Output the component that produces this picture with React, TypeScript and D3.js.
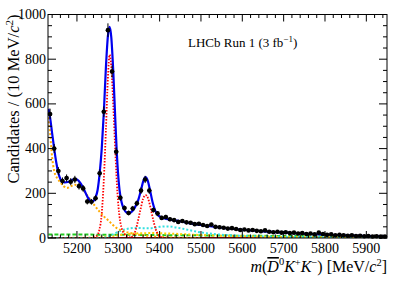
import React from "react";
import * as d3 from "d3";

// histogram: 10 MeV bins starting at 5130
const binLow = 5130;
const binWidth = 10;
const counts = [
  555, 400, 300, 255, 268, 252, 262, 232, 222, 163, 162, 178, 290, 565, 930,
  745, 386, 180, 134, 112, 132, 155, 212, 262, 212, 125, 110, 90, 94, 84, 80,
  72, 76, 70, 68, 62, 64, 58, 54, 60, 50, 48, 46, 42, 44, 40, 36, 38, 34, 36,
  32, 30, 34, 28, 26, 28, 24, 26, 22, 24, 20, 22, 18, 20, 16, 24, 18, 14, 16,
  12, 14, 12, 10, 12, 9, 10, 8, 9, 7, 8, 6, 7,
];

// fit components as [mass, value]
const totalFit: [number, number][] = [
  [5131, 578], [5135, 540], [5140, 468], [5145, 400], [5150, 338], [5155, 292],
  [5160, 264], [5165, 252], [5170, 249], [5180, 252], [5190, 262], [5197, 265],
  [5205, 254], [5215, 226], [5225, 186], [5232, 167], [5238, 164], [5245, 182],
  [5250, 215], [5255, 290], [5260, 400], [5265, 560], [5270, 760], [5275, 905],
  [5279, 945], [5283, 900], [5288, 740], [5293, 520], [5298, 330], [5303, 215],
  [5308, 160], [5314, 128], [5320, 114], [5326, 111], [5332, 117], [5340, 136],
  [5348, 168], [5355, 215], [5361, 258], [5366, 272], [5371, 258], [5377, 212],
  [5383, 160], [5389, 124], [5395, 104], [5405, 92], [5420, 84], [5440, 78],
  [5460, 71], [5500, 58], [5550, 46], [5600, 37], [5650, 30], [5700, 24],
  [5750, 19], [5800, 15], [5850, 12], [5900, 9], [5950, 7],
];

const bdSignal: [number, number][] = [
  [5240, 2], [5248, 10], [5254, 35], [5260, 110], [5265, 260], [5270, 480],
  [5275, 720], [5279, 820], [5283, 770], [5288, 590], [5293, 380], [5298, 200],
  [5303, 95], [5308, 45], [5315, 18], [5325, 5], [5340, 0],
];

const bsSignal: [number, number][] = [
  [5325, 0], [5335, 8], [5342, 35], [5348, 80], [5354, 130], [5360, 175],
  [5366, 192], [5372, 178], [5378, 135], [5384, 85], [5390, 42], [5396, 16],
  [5404, 4], [5415, 0],
];

const partReco: [number, number][] = [
  [5131, 540], [5135, 470], [5140, 360], [5145, 300], [5152, 268],
  [5160, 250], [5168, 232], [5176, 224], [5186, 232], [5195, 238], [5205, 232],
  [5215, 215], [5225, 190], [5235, 165], [5245, 140], [5255, 117], [5265, 97],
  [5275, 80], [5285, 62], [5295, 46], [5310, 32], [5330, 22], [5350, 15],
  [5380, 8], [5420, 3], [5460, 1], [5500, 0],
];

const lowBkg: [number, number][] = [
  [5131, 0], [5240, 2], [5280, 8], [5310, 15], [5340, 20], [5380, 22],
  [5420, 20], [5480, 15], [5550, 10], [5650, 6], [5800, 3], [5950, 2],
];

const combBkg: [number, number][] = [
  [5131, 16], [5250, 15], [5400, 13], [5550, 11], [5700, 9], [5850, 7],
  [5950, 6],
];

const reflBkg: [number, number][] = [
  [5131, 0], [5260, 0], [5280, 10], [5300, 28], [5320, 40], [5340, 45],
  [5360, 44], [5380, 44], [5400, 50], [5420, 52], [5440, 47], [5460, 40],
  [5480, 32], [5500, 25], [5530, 18], [5570, 12], [5620, 8], [5700, 5],
  [5800, 3], [5950, 1],
];

const flatBkg: [number, number][] = [
  [5131, 1], [5950, 1],
];

const xMajor = [5200, 5300, 5400, 5500, 5600, 5700, 5800, 5900];
const yMajor = [0, 200, 400, 600, 800, 1000];

const W = 407;
const H = 292;
const left = 48;
const right = 387;
const top = 14.5;
const bottom = 238;

const App: React.FC = () => {
  const x = d3.scaleLinear().domain([5130, 5950]).range([left, right]);
  const y = d3.scaleLinear().domain([0, 1000]).range([bottom, top]);

  const line = d3
    .line<[number, number]>()
    .x((d) => x(d[0]))
    .y((d) => y(d[1]))
    .curve(d3.curveMonotoneX);

  const xMinor = d3.range(5140, 5950, 20).filter((v) => v % 100 !== 0);
  const yMinor = d3.range(50, 1000, 50).filter((v) => v % 200 !== 0);

  const pts = counts.map((c, i) => ({
    m: binLow + binWidth * i + binWidth / 2,
    n: c,
    e: Math.sqrt(c),
  }));

  const font = "'Liberation Serif', 'Times New Roman', serif";

  return (
    <svg
      width={W}
      height={H}
      style={{ position: "absolute", left: 0, top: 0, background: "#fff" }}
      fontFamily={font}
    >
      <defs>
        <clipPath id="plot">
          <rect x={left} y={top} width={right - left} height={bottom - top} />
        </clipPath>
      </defs>

      <g clipPath="url(#plot)" fill="none">
        <path d={line(flatBkg) || ""} stroke="#d40000" strokeWidth={1.5} />
        <path d={line(combBkg) || ""} stroke="#22cc22" strokeWidth={2} strokeDasharray="4,2" />
        <path d={line(lowBkg) || ""} stroke="#ffcc00" strokeWidth={2} strokeDasharray="2,2" />
        <path d={line(reflBkg) || ""} stroke="#33e0e0" strokeWidth={2} strokeDasharray="2,2" />
        <path d={line(partReco) || ""} stroke="#ffaa00" strokeWidth={2} strokeDasharray="2,2" />
        <path d={line(bdSignal) || ""} stroke="#ff0000" strokeWidth={1.8} strokeDasharray="1.5,1.5" />
        <path d={line(bsSignal) || ""} stroke="#ff0000" strokeWidth={1.8} strokeDasharray="1.5,1.5" />
        <path d={line(totalFit) || ""} stroke="#0000ee" strokeWidth={2.2} />
      </g>

      <g>
        {pts.map((p) => (
          <g key={p.m}>
            <line
              x1={x(p.m)}
              x2={x(p.m)}
              y1={y(p.n - p.e)}
              y2={y(p.n + p.e)}
              stroke="#000"
              strokeWidth={1}
            />
            <line
              x1={x(p.m - binWidth / 2)}
              x2={x(p.m + binWidth / 2)}
              y1={y(p.n)}
              y2={y(p.n)}
              stroke="#000"
              strokeWidth={1}
            />
            <circle cx={x(p.m)} cy={y(p.n)} r={2.3} fill="#000" />
          </g>
        ))}
      </g>

      {/* frame and ticks */}
      <rect
        x={left}
        y={top}
        width={right - left}
        height={bottom - top}
        fill="none"
        stroke="#000"
        strokeWidth={1}
      />
      <g stroke="#000" strokeWidth={1}>
        {xMajor.map((v) => (
          <g key={"xM" + v}>
            <line x1={x(v)} x2={x(v)} y1={bottom} y2={bottom - 7} />
            <line x1={x(v)} x2={x(v)} y1={top} y2={top + 7} />
          </g>
        ))}
        {xMinor.map((v) => (
          <g key={"xm" + v}>
            <line x1={x(v)} x2={x(v)} y1={bottom} y2={bottom - 3.5} />
            <line x1={x(v)} x2={x(v)} y1={top} y2={top + 3.5} />
          </g>
        ))}
        {yMajor.map((v) => (
          <g key={"yM" + v}>
            <line x1={left} x2={left + 8} y1={y(v)} y2={y(v)} />
            <line x1={right} x2={right - 8} y1={y(v)} y2={y(v)} />
          </g>
        ))}
        {yMinor.map((v) => (
          <g key={"ym" + v}>
            <line x1={left} x2={left + 4} y1={y(v)} y2={y(v)} />
            <line x1={right} x2={right - 4} y1={y(v)} y2={y(v)} />
          </g>
        ))}
      </g>

      <g fontSize={14} fill="#000">
        {xMajor.map((v) => (
          <text key={"xl" + v} x={x(v)} y={bottom + 15} textAnchor="middle">
            {v}
          </text>
        ))}
        {yMajor.map((v) => (
          <text key={"yl" + v} x={left - 2} y={y(v) + 4.5} textAnchor="end">
            {v}
          </text>
        ))}
      </g>

      <text x={188} y={47} fontSize={13}>
        LHCb Run 1 (3 fb
        <tspan dy={-5} fontSize={9}>−1</tspan>
        <tspan dy={5}>)</tspan>
      </text>

      <text x={right} y={272} fontSize={16} textAnchor="end">
        <tspan fontStyle="italic">m</tspan>(
        <tspan fontStyle="italic" textDecoration="overline">D</tspan>
        <tspan dy={-7} fontSize={10.5}>0</tspan>
        <tspan dy={7} fontStyle="italic">K</tspan>
        <tspan dy={-6} fontSize={10.5}>+</tspan>
        <tspan dy={6} fontStyle="italic">K</tspan>
        <tspan dy={-6} fontSize={10.5}>−</tspan>
        <tspan dy={6}>) [MeV/</tspan>
        <tspan fontStyle="italic">c</tspan>
        <tspan dy={-6} fontSize={10.5}>2</tspan>
        <tspan dy={6}>]</tspan>
      </text>

      <text
        transform={`translate(19,${top}) rotate(-90)`}
        fontSize={16.5}
        textAnchor="end"
      >
        Candidates / (10 MeV/
        <tspan fontStyle="italic">c</tspan>
        <tspan dy={-6} fontSize={11}>2</tspan>
        <tspan dy={6}>)</tspan>
      </text>
    </svg>
  );
};

export default App;
